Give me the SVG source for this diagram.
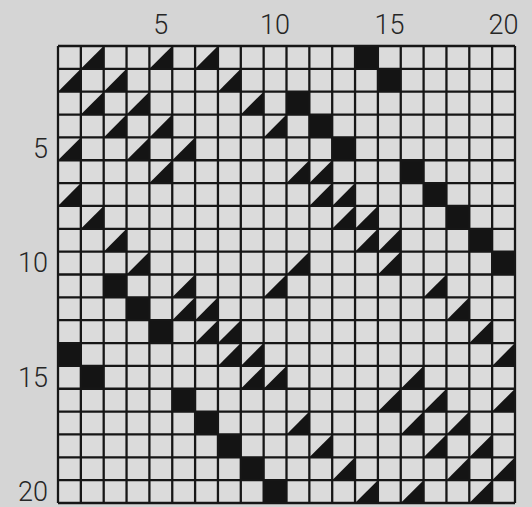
<svg xmlns="http://www.w3.org/2000/svg" xmlns:xlink="http://www.w3.org/1999/xlink" width="532" height="507" viewBox="0 0 532 507">
<style>
.lbl{font-family:Roboto,"Liberation Sans",Arial,sans-serif;font-weight:300;font-size:27px;fill:#262626}
.grid{stroke:#161616;stroke-width:0.1;fill:none}
.ink{fill:#141414}
</style>
<defs>
<path id="t" d="M1,0V1H0Z"/>
<rect id="f" width="1" height="1"/>
</defs>
<rect width="532" height="507" fill="#d5d5d5"/>
<g id="labels">
<text class="lbl" x="160.8" y="34" text-anchor="middle">5</text>
<text class="lbl" x="275.1" y="34" text-anchor="middle">10</text>
<text class="lbl" x="389.4" y="34" text-anchor="middle">15</text>
<text class="lbl" x="503.6" y="34" text-anchor="middle">20</text>
<text class="lbl" x="48" y="158" text-anchor="end">5</text>
<text class="lbl" x="48" y="272" text-anchor="end">10</text>
<text class="lbl" x="48" y="387" text-anchor="end">15</text>
<text class="lbl" x="48" y="501" text-anchor="end">20</text>
</g>
<g id="board" transform="translate(58,46) scale(22.85)">
<rect width="20" height="20" fill="#dbdbdb"/>
<g id="squares" class="ink">
<use xlink:href="#f" x="13" y="0"/><use xlink:href="#f" x="14" y="1"/><use xlink:href="#f" x="10" y="2"/><use xlink:href="#f" x="11" y="3"/><use xlink:href="#f" x="12" y="4"/>
<use xlink:href="#f" x="15" y="5"/><use xlink:href="#f" x="16" y="6"/><use xlink:href="#f" x="17" y="7"/><use xlink:href="#f" x="18" y="8"/><use xlink:href="#f" x="19" y="9"/>
<use xlink:href="#f" x="2" y="10"/><use xlink:href="#f" x="3" y="11"/><use xlink:href="#f" x="4" y="12"/><use xlink:href="#f" x="0" y="13"/><use xlink:href="#f" x="1" y="14"/>
<use xlink:href="#f" x="5" y="15"/><use xlink:href="#f" x="6" y="16"/><use xlink:href="#f" x="7" y="17"/><use xlink:href="#f" x="8" y="18"/><use xlink:href="#f" x="9" y="19"/>
</g>
<g id="triangles" class="ink">
<use xlink:href="#t" x="1" y="0"/><use xlink:href="#t" x="4" y="0"/><use xlink:href="#t" x="6" y="0"/>
<use xlink:href="#t" x="0" y="1"/><use xlink:href="#t" x="2" y="1"/><use xlink:href="#t" x="7" y="1"/>
<use xlink:href="#t" x="1" y="2"/><use xlink:href="#t" x="3" y="2"/><use xlink:href="#t" x="8" y="2"/>
<use xlink:href="#t" x="2" y="3"/><use xlink:href="#t" x="4" y="3"/><use xlink:href="#t" x="9" y="3"/>
<use xlink:href="#t" x="0" y="4"/><use xlink:href="#t" x="3" y="4"/><use xlink:href="#t" x="5" y="4"/>
<use xlink:href="#t" x="4" y="5"/><use xlink:href="#t" x="10" y="5"/><use xlink:href="#t" x="11" y="5"/>
<use xlink:href="#t" x="0" y="6"/><use xlink:href="#t" x="11" y="6"/><use xlink:href="#t" x="12" y="6"/>
<use xlink:href="#t" x="1" y="7"/><use xlink:href="#t" x="12" y="7"/><use xlink:href="#t" x="13" y="7"/>
<use xlink:href="#t" x="2" y="8"/><use xlink:href="#t" x="13" y="8"/><use xlink:href="#t" x="14" y="8"/>
<use xlink:href="#t" x="3" y="9"/><use xlink:href="#t" x="10" y="9"/><use xlink:href="#t" x="14" y="9"/>
<use xlink:href="#t" x="5" y="10"/><use xlink:href="#t" x="9" y="10"/><use xlink:href="#t" x="16" y="10"/>
<use xlink:href="#t" x="5" y="11"/><use xlink:href="#t" x="6" y="11"/><use xlink:href="#t" x="17" y="11"/>
<use xlink:href="#t" x="6" y="12"/><use xlink:href="#t" x="7" y="12"/><use xlink:href="#t" x="18" y="12"/>
<use xlink:href="#t" x="7" y="13"/><use xlink:href="#t" x="8" y="13"/><use xlink:href="#t" x="19" y="13"/>
<use xlink:href="#t" x="8" y="14"/><use xlink:href="#t" x="9" y="14"/><use xlink:href="#t" x="15" y="14"/>
<use xlink:href="#t" x="14" y="15"/><use xlink:href="#t" x="16" y="15"/><use xlink:href="#t" x="19" y="15"/>
<use xlink:href="#t" x="10" y="16"/><use xlink:href="#t" x="15" y="16"/><use xlink:href="#t" x="17" y="16"/>
<use xlink:href="#t" x="11" y="17"/><use xlink:href="#t" x="16" y="17"/><use xlink:href="#t" x="18" y="17"/>
<use xlink:href="#t" x="12" y="18"/><use xlink:href="#t" x="17" y="18"/><use xlink:href="#t" x="19" y="18"/>
<use xlink:href="#t" x="13" y="19"/><use xlink:href="#t" x="15" y="19"/><use xlink:href="#t" x="18" y="19"/>
</g>
<path class="grid" d="M0,0V20M1,0V20M2,0V20M3,0V20M4,0V20M5,0V20M6,0V20M7,0V20M8,0V20M9,0V20M10,0V20M11,0V20M12,0V20M13,0V20M14,0V20M15,0V20M16,0V20M17,0V20M18,0V20M19,0V20M20,0V20M0,0H20M0,1H20M0,2H20M0,3H20M0,4H20M0,5H20M0,6H20M0,7H20M0,8H20M0,9H20M0,10H20M0,11H20M0,12H20M0,13H20M0,14H20M0,15H20M0,16H20M0,17H20M0,18H20M0,19H20M0,20H20"/>
</g>
</svg>
